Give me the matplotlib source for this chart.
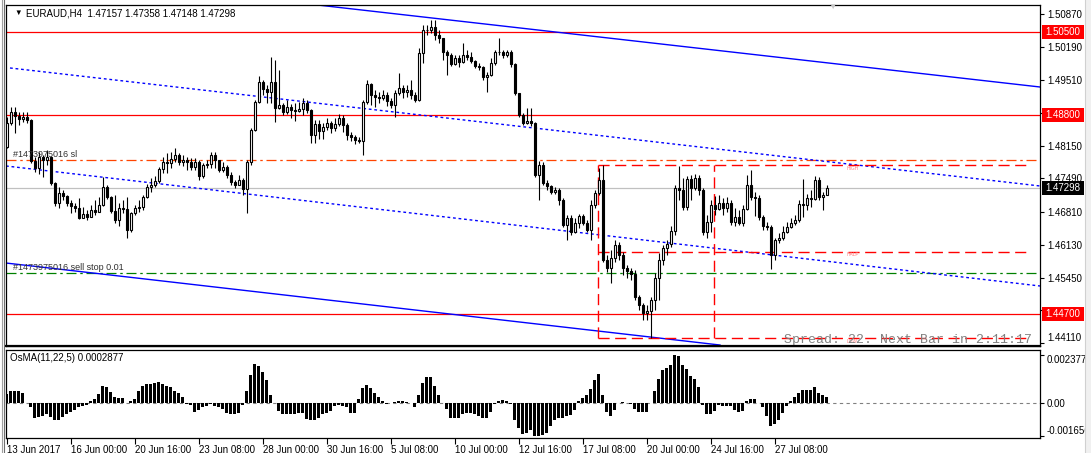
import numpy as np
import matplotlib.pyplot as plt
from matplotlib.patches import Rectangle
from matplotlib.transforms import blended_transform_factory

plt.rcParams['font.family'] = ['Liberation Sans', 'DejaVu Sans']

# EURAUD H4 candles, prices in points (1e-5)
first_open = 148137
close_pts = [
    148630, 148856, 148774, 148713, 148754, 148692, 147849, 147706, 147932, 147870,
    147932, 147397, 146986, 147192, 147130, 146986, 146925, 146884, 146678, 146760,
    146699, 146842, 146801, 146945, 147315, 147110, 146822, 146637, 146884, 146863,
    146431, 146781, 146884, 146904, 147110, 147315, 147356, 147438, 147685, 147829,
    147808, 147891, 147973, 147829, 147870, 147829, 147726, 147829, 147541, 147767,
    147788, 147973, 147870, 147664, 147726, 147562, 147418, 147356, 147459, 147274,
    147829, 148486, 149062, 149473, 149329, 149267, 149473, 148939, 149000, 148856,
    148959, 148897, 148877, 148918, 149041, 148897, 148384, 148610, 148466, 148548,
    148630, 148528, 148610, 148733, 148589, 148384, 148343, 148281, 148260, 149062,
    149432, 149206, 149165, 149144, 149206, 149082, 149000, 149247, 149350, 149267,
    149308, 149206, 149103, 150069, 150541, 150541, 150603, 150439, 150377, 150089,
    150028, 149843, 149966, 149884, 150028, 149987, 149904, 149802, 149781, 149576,
    149617, 149863, 150089, 150089, 150028, 150089, 149843, 149247, 148795, 148630,
    148671, 148630, 147562, 147767, 147397, 147336, 147212, 147253, 147048, 146534,
    146678, 146390, 146575, 146719, 146575, 146431, 146945, 147192, 147459, 145815,
    145651, 145856, 146123, 145918, 145651, 145589, 145527, 145055, 144890, 144726,
    144767, 144993, 145445, 145815, 146062, 146144, 146411, 147295, 147253, 146904,
    147480, 147295, 147500, 147253, 146390, 146596, 146945, 146863, 146986, 146884,
    146986, 146596, 146699, 146575, 146863, 147356, 147110, 147089, 146699, 146514,
    146493, 145918, 146226, 146267, 146390, 146493, 146575, 146637, 146966, 146945,
    147089, 147069, 147459, 147110, 147157, 147298,
]
high_pts = [
    148754, 148959, 148959, 148856, 148856, 148856, 148713, 147932, 148034, 147973,
    148075, 147952, 147418, 147315, 147253, 147151, 147048, 146986, 147089, 146904,
    146842, 146945, 147048, 147110, 147521, 147356, 147130, 147151, 146986, 147048,
    147110, 146801, 146945, 147048, 147151, 147377, 147500, 147541, 147726, 147932,
    148014, 148034, 148117, 148014, 147973, 147932, 147911, 147911, 147870, 147808,
    147870, 148034, 148034, 147870, 147829, 147767, 147623, 147459, 147562, 147500,
    147870, 148528, 149103, 149596, 149514, 149411, 149987, 149925, 149719, 149041,
    149103, 149021, 149041, 149062, 149144, 149103, 148918, 148692, 148692, 148630,
    148733, 148671, 148733, 148815, 148795, 148630, 148445, 148384, 148343, 149103,
    149514, 149452, 149308, 149267, 149308, 149267, 149144, 149308, 149658, 149411,
    149411, 149514, 149267, 150172, 150644, 150644, 150747, 150747, 150541, 150377,
    150130, 150069, 150028, 150028, 150274, 150130, 150089, 149925, 149863, 149802,
    149678, 149966, 150130, 150377, 150130, 150130, 150130, 149863, 149247, 148836,
    148939, 148939, 148651, 147849, 147829, 147459, 147356, 147315, 147295, 147089,
    146740, 146740, 146678, 146760, 146760, 146637, 147048, 147253, 147706, 147767,
    145918, 146020, 146226, 146185, 145979, 145712, 145651, 145609, 145096, 144931,
    144890, 145055, 145548, 145959, 146123, 146226, 146514, 147356, 147747, 147500,
    147541, 147562, 147582, 147562, 147295, 146740, 147048, 147130, 147151, 147089,
    147110, 147048, 146884, 146842, 146945, 147562, 147664, 147212, 147151, 146740,
    146596, 146534, 146267, 146370, 146514, 146596, 146678, 146740, 147048, 147480,
    147171, 147253, 147541, 147521, 147212, 147358,
]
low_pts = [
    148117, 148590, 148425, 148590, 148651, 148630, 147808, 147623, 147582, 147521,
    147767, 147356, 146925, 146884, 147048, 146925, 146781, 146801, 146658, 146678,
    146637, 146760, 146740, 146863, 146925, 147069, 146781, 146575, 146514, 146781,
    146267, 146390, 146740, 146801, 146842, 147089, 147212, 147315, 147397, 147603,
    147603, 147706, 147829, 147767, 147747, 147664, 147664, 147664, 147459, 147500,
    147706, 147706, 147706, 147623, 147623, 147500, 147356, 147295, 147377, 147151,
    146781, 147767, 148466, 149041, 149206, 149041, 149041, 148651, 148918, 148795,
    148815, 148733, 148671, 148856, 148795, 148836, 148219, 148219, 148302, 148302,
    148487, 148425, 148466, 148569, 148445, 148281, 148260, 148199, 148219, 147973,
    149021, 149000, 148959, 149041, 149103, 148980, 148939, 148754, 149206, 149144,
    149165, 149124, 149062, 149082, 149863, 150439, 150480, 150336, 150274, 149925,
    149617, 149802, 149822, 149781, 149863, 149925, 149863, 149761, 149719, 149514,
    149267, 149596, 149822, 150028, 149966, 149987, 149781, 149206, 148754, 148590,
    148610, 148569, 147521, 147048, 147356, 147253, 147171, 147171, 146945, 146493,
    146226, 146329, 146370, 146473, 146534, 146390, 146226, 146884, 147151, 145774,
    145568, 145342, 145774, 145815, 145507, 145445, 145404, 144993, 144788, 144582,
    144582, 144212, 144788, 144993, 145712, 145918, 146082, 146329, 147048, 146842,
    146842, 147048, 147253, 147151, 146329, 146267, 146390, 146740, 146842, 146740,
    146801, 146534, 146514, 146534, 146514, 146842, 147048, 146719, 146637, 146431,
    146431, 145630, 145815, 146164, 146226, 146370, 146473, 146534, 146596, 146699,
    146842, 146904, 147048, 147048, 146842, 147148,
]
# OsMA(11,22,5) histogram, units of 1e-6
osma_e6 = [
    437, 571, 605, 571, 470, -34, -235, -739, -706, -655,
    -571, -706, -874, -840, -706, -538, -437, -370, -235, -168,
    -101, 67, 168, 437, 823, 806, 521, 302, 235, 235,
    0, 101, 185, 605, 857, 941, 941, 991, 1058, 941,
    823, 773, 605, 470, 269, -67, -101, -437, -370, -235,
    -151, -67, -151, -235, -319, -487, -538, -538, -487, -101,
    605, 1361, 1949, 1814, 1529, 1109, 403, -34, -403, -538,
    -538, -538, -538, -487, -487, -823, -874, -874, -773, -538,
    -487, -403, -168, -101, -151, -235, -487, -487, 185, 739,
    907, 739, 470, 302, 101, -67, 0, 50, 67, 67,
    50, -34, -235, 403, 1008, 1260, 1260, 840, 403, -34,
    -336, -773, -773, -773, -538, -504, -504, -571, -672, -739,
    -739, -470, -67, 101, 134, 101, -67, -840, -1277, -1579,
    -1512, -1344, -1656, -1646, -1613, -1512, -1176, -874, -773, -773,
    -672, -605, -370, 101, 235, 403, 706, 1109, 1445, 403,
    -437, -672, -370, -34, 34, -34, -67, -336, -470, -470,
    -437, 0, 605, 1176, 1646, 1714, 1882, 2377, 2352, 1882,
    1680, 1344, 1176, 806, -134, -571, -538, -403, -134, -168,
    -168, -168, -370, -437, -403, 101, 202, 202, -34, -235,
    -672, -1176, -1042, -874, -504, -168, 101, 269, 504, 638,
    638, 638, 773, 504, 370, 288,
]

date_ticks = [0, 16, 32, 48, 64, 80, 96, 112, 128, 144, 160, 176, 192]
date_labels = ['13 Jun 2017', '16 Jun 00:00', '20 Jun 16:00', '23 Jun 08:00',
               '28 Jun 00:00', '30 Jun 16:00', '5 Jul 08:00', '10 Jul 00:00',
               '12 Jul 16:00', '17 Jul 08:00', '20 Jul 00:00', '24 Jul 16:00',
               '27 Jul 08:00']
price_ticks = [1.50870, 1.50190, 1.49510, 1.48830, 1.48150, 1.47490, 1.46810,
               1.46130, 1.45450, 1.44790, 1.44110]
hidden_ticks = [1.48830, 1.44790]   # covered by the level labels
red_levels = [1.50500, 1.48800, 1.44700]
sl_level = 1.47870
sell_stop_level = 1.45548

# channel lines: (bar index, price) endpoints
upper_solid = ([73.3, 258.3], [1.51096, 1.49370])
lower_solid = ([-0.2, 178.3], [1.45753, 1.44068])
upper_dotted = ([0.8, 258.3], [1.49761, 1.47336])
lower_dotted = ([-0.2, 258.3], [1.47747, 1.45281])

# high/low range box
box_left, box_right, box_end = 147.8, 176.8, 255.8
box_high, box_low = 1.47767, 1.44212

close = np.array(close_pts) / 1e5
high = np.array(high_pts) / 1e5
low = np.array(low_pts) / 1e5
opens = np.r_[first_open / 1e5, close[:-1]]
high = np.maximum(high, np.maximum(opens, close))
low = np.minimum(low, np.minimum(opens, close))
osma = np.array(osma_e6) / 1e6
idx = np.arange(len(close))

W, H = 1091, 453
fig = plt.figure(figsize=(W / 100, H / 100), dpi=100)
fig.patch.set_facecolor('white')


def fx(px):
    return px / W


def fy(py):
    return 1 - py / H


ax = fig.add_axes([fx(6), fy(346), fx(1040) - fx(6), fy(5) - fy(346)])
ax2 = fig.add_axes([fx(6), fy(438), fx(1040) - fx(6), fy(350) - fy(438)])

xmin, xmax = -0.2, 258.3
ax.set_xlim(xmin, xmax)
ax.set_ylim(1.44048, 1.51055)
ax2.set_xlim(xmin, xmax)
ax2.set_ylim(-0.001756, 0.002627)

for a in (ax, ax2):
    for s in a.spines.values():
        s.set_color('black')
        s.set_linewidth(0.9)

tr = blended_transform_factory(ax.transAxes, ax.transData)

# horizontal levels
for lv in red_levels:
    ax.axhline(lv, color='#ff0000', lw=0.9, zorder=2)
ax.axhline(close[-1], color='#c0c0c0', lw=0.9, zorder=1)
ax.axhline(sl_level, color='#ff4500', lw=0.9, dashes=(8, 3, 2, 3), zorder=2)
ax.axhline(sell_stop_level, color='#008000', lw=0.9, dashes=(8, 3, 2, 3), zorder=2)

# channel
ax.plot(*upper_solid, color='#0000ff', lw=1.0, zorder=2)
ax.plot(*lower_solid, color='#0000ff', lw=1.0, zorder=2)
ax.plot(*upper_dotted, color='#0000ff', lw=1.0, dashes=(2, 2), zorder=2)
ax.plot(*lower_dotted, color='#0000ff', lw=1.0, dashes=(2, 2), zorder=2)

# range box
box_half = (box_high + box_low) / 2
rd = dict(color='#ff0000', lw=1.0, dashes=(8, 4), zorder=2)
for lv in (box_high, box_half, box_low):
    ax.plot([box_left, box_end], [lv, lv], **rd)
ax.plot([box_left, box_left], [box_low, box_high], **rd)
ax.plot([box_right, box_right], [box_low, box_high], **rd)
for lv, name in ((box_high, 'HIGH'), (box_half, 'HALF'), (box_low, 'LOW')):
    ax.text(210, lv - 0.0002, name, fontsize=3.5, color='#ff7f7f',
            va='top', ha='left', zorder=3)

# candles
up = close >= opens
body_lo = np.minimum(opens, close)
body_h = np.maximum(np.abs(close - opens), 0.00003)
ax.vlines(idx, low, high, color='black', lw=0.8, zorder=4)
ax.bar(idx[up], body_h[up], bottom=body_lo[up], width=0.55,
       facecolor='white', edgecolor='black', lw=0.8, zorder=5)
ax.bar(idx[~up], body_h[~up], bottom=body_lo[~up], width=0.55,
       facecolor='black', edgecolor='black', lw=0.8, zorder=5)

# texts on the main chart
ax.text(8 / 1034, 1 - 5 / 341, '\u25bc', transform=ax.transAxes, fontsize=5.5,
        va='top', ha='left')
ax.text(20 / 1034, 1 - 4 / 341, 'EURAUD,H4  1.47157 1.47358 1.47148 1.47298',
        transform=ax.transAxes, fontsize=7, va='top', ha='left')
ax.text(826 / 1034, 1 + 1 / 341, '\u25bc', transform=ax.transAxes, fontsize=6,
        color='#c8c8c8', va='top', ha='center')
ax.text(1.5, sl_level + 0.0003, '#1473975016 sl', fontsize=6.5, color='#303030',
        va='bottom', ha='left', zorder=6)
ax.text(1.5, sell_stop_level + 0.0003, '#1473975016 sell stop 0.01', fontsize=6.5,
        color='#303030', va='bottom', ha='left', zorder=6)
ax.text(1 - 8 / 1034, 1.44171, 'Spread: 22. Next Bar in 2:11:17', transform=tr,
        fontsize=9.5, family='Liberation Mono', color='#808080',
        va='center', ha='right', zorder=6)

# right price scale
ax.yaxis.tick_right()
ax.set_yticks(price_ticks)
ax.set_yticklabels(['' if p in hidden_ticks else '%.5f' % p for p in price_ticks])
ax.tick_params(axis='y', length=3, width=0.8, pad=2, labelsize=7, direction='out')
ax.get_yticklabels()[-1].set_va('bottom')
ax.set_xticks([])

bw = 42 / 1034
bh = 14 * 0.0002055
for lv, txt, col in [(1.50500, '1.50500', '#ff0000'), (1.48800, '1.48800', '#ff0000'),
                     (1.44700, '1.44700', '#ff0000'), (close[-1], '1.47298', 'black')]:
    ax.add_patch(Rectangle((1 + 2 / 1034, lv - bh / 2), bw, bh, transform=tr,
                           facecolor=col, edgecolor='none', clip_on=False, zorder=8))
    ax.text(1 + 5 / 1034, lv, txt, transform=tr, color='white', fontsize=7,
            va='center', ha='left', clip_on=False, zorder=9)

# OsMA pane
ax2.bar(idx, osma, width=0.7, color='black', zorder=3)
ax2.axhline(0, color='#808080', lw=0.8, dashes=(3, 3), zorder=2)
ax2.text(4 / 1034, 1 - 3 / 88, 'OsMA(11,22,5) 0.0002877', transform=ax2.transAxes,
         fontsize=7, va='top', ha='left')
ax2.yaxis.tick_right()
ax2.set_yticks([0.002377, 0.0, -0.001656])
ax2.set_yticklabels(['0.002377', '0.00', '-0.001656'])
ax2.tick_params(axis='y', length=3, width=0.8, pad=2, labelsize=7, direction='out')
yl = ax2.get_yticklabels()
yl[0].set_va('top')
yl[2].set_va('bottom')
ax2.set_xticks(date_ticks)
ax2.set_xticklabels(date_labels)
for t in ax2.get_xticklabels():
    t.set_ha('left')
ax2.tick_params(axis='x', length=4, width=0.8, pad=1, labelsize=7, direction='out')

# window edges
fig.add_artist(Rectangle((fx(1085), 0), fx(6), 1, transform=fig.transFigure,
                         facecolor='#f0f0f0', edgecolor='none', zorder=20))
fig.add_artist(plt.Line2D([fx(1085), fx(1085)], [0, 1], transform=fig.transFigure,
                          color='#d0d0d0', lw=0.8, zorder=21))
fig.add_artist(plt.Line2D([fx(1.5), fx(1.5)], [0, 1], transform=fig.transFigure,
                          color='#a0a0a0', lw=0.8))
fig.add_artist(plt.Line2D([fx(4), fx(4)], [0, 1], transform=fig.transFigure,
                          color='#707070', lw=0.8))
ax.plot([xmin, xmax], [1.44048, 1.44048], color='black', lw=1.6, clip_on=False, zorder=7)

fig.savefig('out.png', dpi=100)
